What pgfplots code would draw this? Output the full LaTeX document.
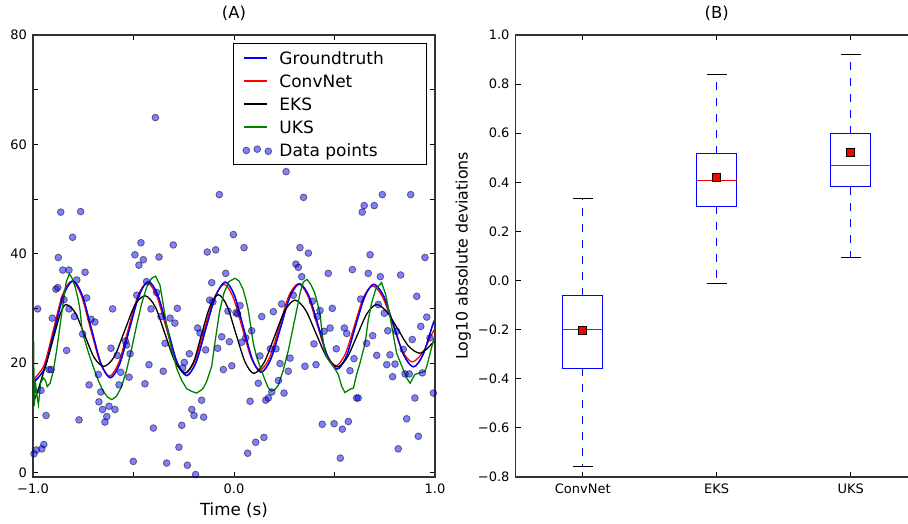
\documentclass[border=0pt]{standalone}
\usepackage{fontspec}
\setmainfont{DejaVu Sans}
\usepackage{pgfplots}
\pgfplotsset{compat=1.18}
\definecolor{mplgreen}{HTML}{008000}
\definecolor{spine}{HTML}{333333}

% 1pt here = 1px of the reference
\pgfplotsset{
  mplpanel/.style={
    scale only axis, width=402pt, height=442pt, anchor=south west,
    axis line style={draw=spine, line width=1.5pt},
    tick align=inside, tick pos=both, major tick length=5pt,
    tick style={draw=black, line width=0.9pt},
    tick label style={font=\fontsize{13}{15}\selectfont, inner sep=0pt},
    xticklabel shift=7pt, yticklabel shift=6pt,
    every axis title shift=0pt,
    title style={font=\fontsize{16.4}{19}\selectfont, at={(axis description cs:0.5,1)}, anchor=base, yshift=16.5pt},
    axis on top, unbounded coords=jump,
  },
}
\newcommand{\legtext}[1]{\makebox[132pt][l]{\hspace*{-4pt}#1}}

\begin{document}
\begin{tikzpicture}
\begin{axis}[mplpanel, at={(33pt,46pt)},
  xmin=-1, xmax=1, ymin=-0.85, ymax=80,
  xtick={-1,-0.5,0,0.5,1}, xticklabels={−1.0,,0.0,,1.0},
  ytick={0,10,...,80}, yticklabels={0,,20,,40,,60,,80},
  xlabel={Time (s)},
  xlabel style={font=\fontsize{16.7}{19}\selectfont, at={(axis description cs:0.5,-0.086)}, anchor=base},
  title={(A)},
  legend image code/.code={\path (0pt,0pt) (37pt,0pt); \draw[#1] (0pt,0pt) -- (23pt,0pt);},
  legend style={at={(axis description cs:0.98,0.982)}, anchor=north east,
    draw=black, line width=1pt, font=\fontsize{17}{19}\selectfont,
    inner xsep=9pt, inner ysep=3pt,
    nodes={text height=15pt, text depth=1pt, inner ysep=3.5pt, inner xsep=2pt}},
  legend cell align=left,
]
% groundtruth
\addplot[blue, line width=1.3pt, smooth] coordinates {
(-1.000,16.4) (-0.943,19.0) (-0.896,25.7) (-0.849,32.3) (-0.802,35.0) (-0.755,32.4) (-0.709,26.2) (-0.662,19.9)
(-0.615,17.3) (-0.568,19.9) (-0.521,26.1) (-0.473,32.3) (-0.426,34.9) (-0.379,32.4) (-0.331,26.3) (-0.284,20.2)
(-0.236,17.7) (-0.188,20.2) (-0.140,26.3) (-0.091,32.3) (-0.043,34.8) (0.002,32.4) (0.046,26.6) (0.091,20.7)
(0.135,18.3) (0.183,20.7) (0.231,26.4) (0.278,32.1) (0.326,34.5) (0.373,32.2) (0.420,26.7) (0.466,21.2)
(0.513,18.9) (0.559,21.2) (0.604,26.7) (0.650,32.1) (0.695,34.4) (0.745,32.2) (0.794,26.9) (0.844,21.5)
(0.893,19.3) (0.940,21.5) (0.987,26.8) (1.000,28.0)};
\addlegendentry{\legtext{Groundtruth}}
\addplot[red, line width=1.3pt, smooth] coordinates {
(-1.000,16.9) (-0.945,19.6) (-0.899,26.0) (-0.854,32.4) (-0.808,35.0) (-0.761,32.5) (-0.714,26.3) (-0.667,20.2)
(-0.620,17.6) (-0.573,20.1) (-0.526,26.2) (-0.479,32.2) (-0.432,34.7) (-0.385,32.3) (-0.337,26.4) (-0.290,20.5)
(-0.242,18.1) (-0.194,20.5) (-0.146,26.3) (-0.097,32.0) (-0.049,34.4) (-0.005,32.1) (0.040,26.6) (0.085,21.0)
(0.129,18.7) (0.177,21.0) (0.225,26.6) (0.272,32.2) (0.320,34.5) (0.367,32.3) (0.414,27.0) (0.460,21.7)
(0.507,19.5) (0.553,21.6) (0.599,26.8) (0.644,32.0) (0.690,34.1) (0.739,32.1) (0.789,27.2) (0.838,22.2)
(0.887,20.2) (0.940,22.0) (0.980,25.0) (1.000,26.3)};
\addlegendentry{\legtext{ConvNet}}
% groundtruth again, so that it lies over ConvNet
\addplot[blue, line width=1.3pt, smooth, forget plot] coordinates {
(-1.000,16.4) (-0.943,19.0) (-0.896,25.7) (-0.849,32.3) (-0.802,35.0) (-0.755,32.4) (-0.709,26.2) (-0.662,19.9)
(-0.615,17.3) (-0.568,19.9) (-0.521,26.1) (-0.473,32.3) (-0.426,34.9) (-0.379,32.4) (-0.331,26.3) (-0.284,20.2)
(-0.236,17.7) (-0.188,20.2) (-0.140,26.3) (-0.091,32.3) (-0.043,34.8) (0.002,32.4) (0.046,26.6) (0.091,20.7)
(0.135,18.3) (0.183,20.7) (0.231,26.4) (0.278,32.1) (0.326,34.5) (0.373,32.2) (0.420,26.7) (0.466,21.2)
(0.513,18.9) (0.559,21.2) (0.604,26.7) (0.650,32.1) (0.695,34.4) (0.745,32.2) (0.794,26.9) (0.844,21.5)
(0.893,19.3) (0.940,21.5) (0.987,26.8) (1.000,28.0)};
\addplot[black, line width=1.3pt, smooth] coordinates {
(-1.000,12.6) (-0.975,15.0) (-0.950,18.0) (-0.925,21.0) (-0.895,25.0) (-0.866,28.8) (-0.837,30.7) (-0.790,29.2)
(-0.742,25.0) (-0.694,20.9) (-0.646,19.4) (-0.595,21.2) (-0.544,25.9) (-0.493,30.6) (-0.442,32.3) (-0.392,30.3)
(-0.343,25.3) (-0.294,20.3) (-0.244,18.2) (-0.200,20.3) (-0.161,25.3) (-0.120,30.3) (-0.078,32.5) (-0.034,30.4)
(0.010,25.3) (0.055,20.2) (0.099,18.1) (0.150,20.1) (0.201,24.8) (0.252,29.5) (0.303,31.5) (0.356,29.7)
(0.408,25.4) (0.461,21.1) (0.514,19.3) (0.563,21.0) (0.612,25.0) (0.661,29.0) (0.709,30.7) (0.762,29.3)
(0.815,26.2) (0.868,23.1) (0.921,21.8) (0.960,22.6) (1.000,24.2)};
\addlegendentry{\legtext{EKS}}
\addplot[mplgreen, line width=1.3pt] coordinates {
(-1.000,18.0) (-0.997,23.9) (-0.994,12.1) (-0.988,16.5) (-0.982,14.5) (-0.973,12.4) (-0.962,16.3) (-0.949,17.3)
(-0.938,16.8) (-0.929,15.7) (-0.915,16.3) (-0.899,18.5) (-0.882,22.4) (-0.866,26.7) (-0.850,31.0) (-0.835,34.8)
(-0.819,36.3) (-0.805,35.5) (-0.791,34.0) (-0.775,31.6) (-0.766,29.7) (-0.757,26.5) (-0.745,24.5) (-0.725,22.0)
(-0.700,19.3) (-0.675,16.8) (-0.650,14.8) (-0.630,13.8) (-0.608,13.3) (-0.585,13.9) (-0.560,15.6) (-0.535,18.6)
(-0.510,22.5) (-0.485,26.8) (-0.460,30.8) (-0.435,33.8) (-0.410,35.5) (-0.390,35.9) (-0.368,34.2) (-0.351,30.5)
(-0.335,26.8) (-0.310,22.5) (-0.285,19.0) (-0.260,16.8) (-0.235,15.3) (-0.210,14.8) (-0.186,14.5) (-0.165,15.0)
(-0.153,15.4) (-0.136,16.6) (-0.111,19.4) (-0.095,23.7) (-0.078,27.9) (-0.070,29.7) (-0.050,32.8) (-0.025,34.9)
(0.005,35.5) (0.025,35.0) (0.045,33.5) (0.060,31.5) (0.071,29.7) (0.084,26.5) (0.096,23.6) (0.112,21.2)
(0.129,19.4) (0.154,16.9) (0.170,15.5) (0.187,14.9) (0.205,15.2) (0.221,16.0) (0.246,18.8) (0.271,22.4)
(0.295,26.7) (0.312,29.7) (0.330,33.0) (0.345,34.8) (0.363,35.3) (0.380,34.5) (0.400,33.0) (0.415,31.0)
(0.428,29.0) (0.440,25.0) (0.453,21.8) (0.469,20.6) (0.494,19.4) (0.519,17.9) (0.536,15.7) (0.552,14.6)
(0.565,14.9) (0.577,15.2) (0.594,15.4) (0.610,17.9) (0.627,20.0) (0.652,23.6) (0.668,27.9) (0.685,31.0)
(0.705,33.5) (0.734,34.7) (0.755,32.5) (0.776,28.5) (0.809,21.8) (0.842,18.8) (0.860,17.2) (0.876,16.3)
(0.886,17.0) (0.900,17.9) (0.925,18.2) (0.950,18.5) (0.959,19.4) (0.984,23.0) (1.000,24.9)};
\addlegendentry{\legtext{UKS}}
\addplot[only marks, mark=*, mark size=3.4pt,
  mark options={fill=blue, draw=black, opacity=0.5, line width=0.8pt},
  legend image code/.code={\path (0pt,0pt) (37pt,0pt); \draw[fill=blue, draw=black, opacity=0.5, line width=0.8pt]
    (2.5pt,-0.5pt) circle (3.4pt) (13.5pt,0.8pt) circle (3.4pt) (24.5pt,-1.3pt) circle (3.4pt);}]
coordinates {
(-0.995,3.4) (-0.983,4.1) (-0.977,29.9) (-0.956,4.3) (-0.960,15.0) (-0.946,5.1) (-0.935,10.4) (-0.920,18.8)
(-0.910,18.8) (-0.904,28.2) (-0.886,33.5) (-0.877,33.8) (-0.874,39.3) (-0.862,47.6) (-0.852,37.0) (-0.846,31.6)
(-0.833,22.3) (-0.821,37.0) (-0.821,29.9) (-0.803,43.0) (-0.794,28.5) (-0.782,35.2) (-0.771,9.6) (-0.763,47.7)
(-0.753,25.3) (-0.741,36.6) (-0.733,31.9) (-0.721,16.0) (-0.711,28.0) (-0.703,-0.9) (-0.692,27.5) (-0.675,17.9)
(-0.672,12.9) (-0.663,14.7) (-0.654,11.5) (-0.642,9.2) (-0.633,10.2) (-0.622,12.1) (-0.612,22.7) (-0.604,29.9)
(-0.592,11.5) (-0.581,21.4) (-0.572,16.0) (-0.564,18.3) (-0.540,24.0) (-0.534,23.3) (-0.522,17.4) (-0.517,21.7)
(-0.501,2.0) (-0.493,39.8) (-0.484,32.4) (-0.473,37.9) (-0.463,42.0) (-0.451,38.9) (-0.443,16.2) (-0.435,34.9)
(-0.423,19.7) (-0.413,29.9) (-0.401,8.1) (-0.391,64.9) (-0.385,32.9) (-0.373,39.4) (-0.363,28.5) (-0.352,18.5)
(-0.343,23.6) (-0.335,1.7) (-0.318,28.2) (-0.302,41.6) (-0.294,27.3) (-0.282,30.0) (-0.274,4.6) (-0.260,8.6)
(-0.255,19.1) (-0.247,20.1) (-0.232,1.3) (-0.222,21.7) (-0.210,11.5) (-0.199,10.4) (-0.191,-0.4) (-0.181,26.4)
(-0.169,25.5) (-0.161,13.2) (-0.151,10.1) (-0.141,22.4) (-0.133,40.3) (-0.121,31.5) (-0.105,31.2) (-0.111,34.7)
(-0.091,40.7) (-0.081,22.7) (-0.073,50.8) (-0.061,24.8) (-0.053,18.8) (-0.041,36.4) (-0.030,29.5) (-0.023,23.9)
(-0.011,19.5) (-0.003,43.5) (0.010,29.2) (0.018,29.0) (0.030,30.5) (0.038,23.8) (0.050,41.1) (0.058,24.6)
(0.068,3.5) (0.080,13.0) (0.088,25.9) (0.108,5.5) (0.121,16.3) (0.129,21.3) (0.138,28.5) (0.149,6.4)
(0.158,13.2) (0.171,13.6) (0.181,22.6) (0.188,14.7) (0.196,29.4) (0.209,22.6) (0.221,16.8) (0.229,19.9)
(0.237,30.8) (0.249,14.5) (0.259,55.0) (0.270,18.5) (0.279,20.9) (0.295,32.4) (0.308,38.1) (0.320,37.5)
(0.328,41.1) (0.337,35.8) (0.346,50.3) (0.353,19.4) (0.370,40.1) (0.390,31.3) (0.398,23.5) (0.408,19.7)
(0.414,28.5) (0.428,29.6) (0.439,8.8) (0.448,25.8) (0.469,36.4) (0.478,26.4) (0.489,30.0) (0.498,8.9)
(0.509,22.6) (0.529,2.6) (0.539,7.9) (0.549,26.4) (0.561,25.4) (0.569,9.3) (0.577,18.6) (0.589,37.1)
(0.597,20.8) (0.610,13.6) (0.618,13.6) (0.630,31.7) (0.638,47.6) (0.648,48.8) (0.660,23.6) (0.668,36.4)
(0.677,39.8) (0.690,25.0) (0.698,48.8) (0.710,21.4) (0.718,30.7) (0.728,35.8) (0.738,50.8) (0.748,29.1)
(0.760,19.7) (0.765,25.9) (0.776,21.5) (0.789,17.5) (0.801,19.8) (0.809,25.8) (0.817,4.3) (0.829,36.1)
(0.842,22.5) (0.851,18.0) (0.859,9.8) (0.872,18.0) (0.879,50.8) (0.887,24.3) (0.900,13.6) (0.909,32.2)
(0.917,6.6) (0.929,26.7) (0.937,18.2) (0.950,39.3) (0.959,28.4) (0.975,24.6) (0.992,14.5)};
\addlegendentry{\legtext{Data points}}
\end{axis}

\begin{axis}[mplpanel, at={(515.7pt,46pt)},
  xmin=0.5, xmax=3.5, ymin=-0.8, ymax=1.0,
  xtick={1,2,3}, xticklabels={ConvNet,EKS,UKS},
  ytick={-0.8,-0.6,-0.4,-0.2,0,0.2,0.4,0.6,0.8,1.0},
  yticklabels={−0.8,−0.6,−0.4,−0.2,0.0,0.2,0.4,0.6,0.8,1.0},
  ylabel={Log10 absolute deviations},
  ylabel style={font=\fontsize{15.8}{18}\selectfont, at={(axis description cs:-0.1303,0.5)}, anchor=center},
  title={(B)},
]
% whiskers: from the box out to the whisker ends
\addplot[blue, line width=1.3pt, dash pattern=on 8pt off 8pt] coordinates {
(1,-0.358) (1,-0.757) (nan,nan) (1,-0.062) (1,0.333) (nan,nan)
(2,0.303) (2,-0.011) (nan,nan) (2,0.517) (2,0.839) (nan,nan)
(3,0.383) (3,0.094) (nan,nan) (3,0.598) (3,0.920)};
% caps
\addplot[black, line width=1.3pt] coordinates {
(0.925,-0.757) (1.075,-0.757) (nan,nan) (0.925,0.333) (1.075,0.333) (nan,nan)
(1.925,-0.011) (2.075,-0.011) (nan,nan) (1.925,0.839) (2.075,0.839) (nan,nan)
(2.925,0.094) (3.075,0.094) (nan,nan) (2.925,0.920) (3.075,0.920)};
% boxes: lower to upper quartile, each started in the middle of its lower edge
\addplot[blue, line width=1.3pt, line join=miter] coordinates {
(1,-0.358) (1.15,-0.358) (1.15,-0.062) (0.85,-0.062) (0.85,-0.358) (1,-0.358) (nan,nan)
(2,0.303) (2.15,0.303) (2.15,0.517) (1.85,0.517) (1.85,0.303) (2,0.303) (nan,nan)
(3,0.383) (3.15,0.383) (3.15,0.598) (2.85,0.598) (2.85,0.383) (3,0.383)};
% medians
\addplot[red, line width=1.1pt] coordinates {
(0.85,-0.2005) (1.15,-0.2005) (nan,nan) (1.85,0.409) (2.15,0.409) (nan,nan) (2.85,0.470) (3.15,0.470)};
% means
\addplot[only marks, mark=square*, mark size=4pt,
  mark options={fill=red, draw=black, line width=0.8pt}]
  coordinates {(1,-0.205) (2,0.422) (3,0.520)};
\end{axis}
\pgfresetboundingbox
\useasboundingbox (0pt,0pt) rectangle (908pt,523pt);
\end{tikzpicture}
\end{document}
